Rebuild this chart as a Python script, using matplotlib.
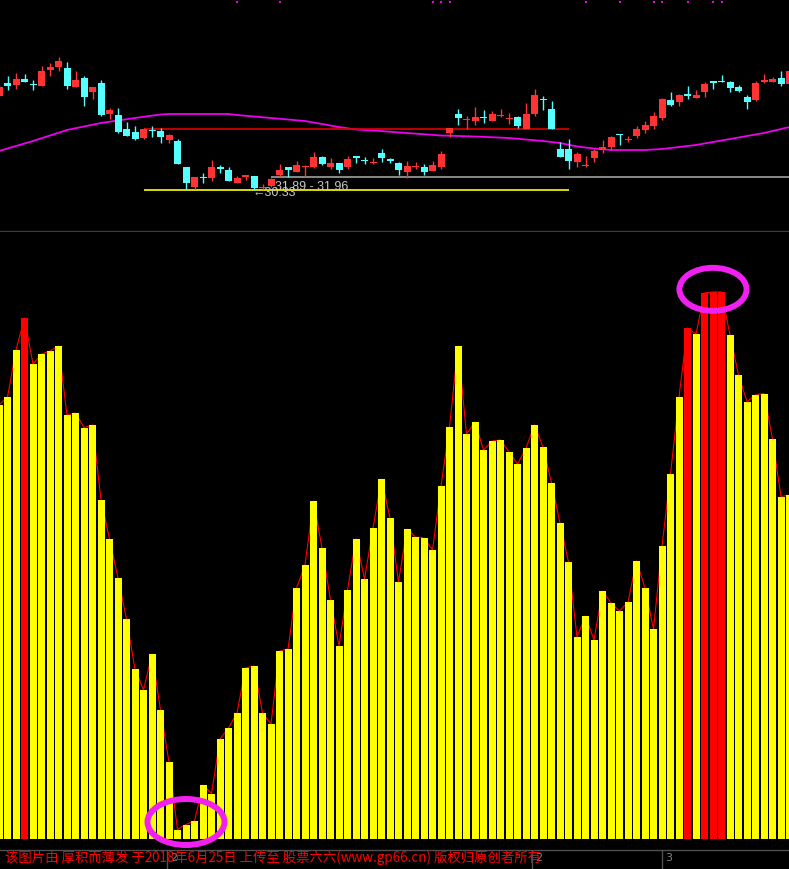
import matplotlib
matplotlib.use('Agg')
import matplotlib.pyplot as plt
from matplotlib.patches import Ellipse
import numpy as np

# ---- price panel (daily candles) ----
opens = [39.73, 41.06, 40.86, 41.43, 40.93, 40.76, 42.36, 42.63, 42.53, 40.66,
         41.53, 40.13, 41.03, 37.93, 37.83, 36.43, 36.13, 35.53, 36.33, 36.23,
         35.33, 35.23, 32.63, 30.63, 31.63, 31.53, 32.63, 32.33, 31.03, 31.63,
         31.73, 30.53, 30.73, 31.83, 32.63, 32.13, 32.63, 32.63, 33.63, 32.63,
         33.03, 32.63, 33.73, 33.33, 33.03, 34.03, 33.43, 33.03, 32.13, 32.63,
         32.63, 32.23, 32.63, 36.03, 37.93, 37.33, 37.23, 37.63, 37.23, 37.73,
         37.43, 37.63, 36.43, 37.93, 39.43, 38.43, 34.43, 34.43, 33.13, 32.73,
         33.53, 34.33, 34.63, 35.93, 35.33, 35.73, 36.33, 36.73, 37.53, 39.33,
         39.13, 39.93, 39.53, 40.13, 41.23, 41.23, 41.13, 40.63, 39.63, 39.33,
         41.13, 41.13, 41.53, 40.93]
highs = [40.83, 41.73, 42.03, 41.93, 41.33, 42.73, 43.03, 43.63, 43.13, 42.23,
         41.73, 40.63, 41.33, 38.53, 38.53, 37.13, 36.73, 36.53, 36.73, 36.53,
         35.93, 35.43, 32.63, 31.63, 32.03, 33.33, 32.83, 32.63, 31.73, 31.83,
         31.73, 30.93, 31.53, 32.93, 32.63, 33.23, 32.83, 34.13, 33.73, 33.53,
         33.03, 33.73, 33.73, 33.63, 33.53, 34.43, 33.53, 33.13, 33.23, 33.13,
         32.93, 33.23, 34.23, 36.53, 38.43, 37.73, 38.63, 38.33, 38.23, 38.43,
         38.03, 37.73, 39.03, 40.43, 39.73, 39.23, 35.13, 35.43, 34.13, 33.73,
         34.43, 35.33, 35.73, 35.93, 35.73, 36.73, 37.23, 38.13, 39.53, 40.13,
         39.93, 40.73, 40.33, 41.13, 41.23, 41.83, 41.23, 40.83, 39.83, 41.23,
         41.93, 41.63, 42.23, 42.43]
lows = [39.63, 40.33, 40.43, 41.16, 40.33, 40.76, 41.73, 42.23, 40.43, 40.66,
        38.73, 39.43, 37.73, 37.43, 36.03, 35.73, 35.33, 35.43, 35.63, 35.03,
        35.03, 32.93, 30.38, 30.40, 31.03, 31.23, 32.03, 31.23, 31.03, 31.33,
        30.33, 30.43, 30.63, 31.73, 31.63, 32.13, 31.73, 32.53, 32.83, 32.43,
        32.03, 32.43, 33.03, 32.93, 32.93, 33.13, 33.03, 31.83, 31.53, 32.43,
        31.83, 32.23, 32.43, 35.63, 36.83, 36.43, 36.83, 37.03, 37.23, 37.63,
        36.93, 36.53, 36.43, 37.73, 38.33, 36.43, 33.63, 32.43, 32.63, 32.63,
        33.13, 34.03, 34.33, 34.83, 35.13, 35.53, 36.03, 36.43, 37.33, 38.73,
        38.73, 39.43, 39.53, 39.63, 40.43, 41.13, 40.13, 40.13, 38.43, 39.23,
        41.03, 41.13, 40.73, 40.93]
closes = [40.63, 40.76, 41.43, 41.16, 40.86, 42.23, 42.63, 43.23, 40.76, 41.33,
          39.63, 40.63, 37.83, 38.33, 36.13, 35.73, 35.43, 36.43, 36.23, 35.63,
          35.83, 32.93, 31.03, 31.63, 31.53, 32.63, 32.43, 31.23, 31.53, 31.83,
          30.53, 30.63, 31.43, 32.33, 32.33, 32.83, 32.73, 33.63, 32.93, 33.03,
          32.33, 33.43, 33.53, 33.23, 33.13, 33.53, 33.23, 32.33, 32.73, 32.73,
          32.13, 32.83, 33.93, 36.53, 37.53, 37.43, 37.63, 37.53, 37.93, 37.83,
          37.53, 36.73, 37.93, 39.83, 39.33, 36.43, 33.63, 33.23, 33.93, 32.83,
          34.23, 34.63, 35.63, 35.83, 35.43, 36.43, 36.83, 37.73, 39.43, 38.83,
          39.83, 39.73, 39.83, 40.93, 41.03, 41.13, 40.53, 40.23, 39.13, 41.03,
          41.33, 41.43, 40.93, 42.23]

# moving average
ma_idx = [0, 4, 8, 12, 16, 19, 20, 24, 27, 28, 32, 36, 40, 42, 44, 48, 52, 56,
          60, 64, 66, 68, 70, 72, 76, 78, 80, 82, 84, 86, 88, 90, 92, 93]
ma_val = [34.23, 35.23, 36.33, 37.03, 37.53, 37.88, 37.93, 37.93, 37.93, 37.83,
          37.53, 37.23, 36.63, 36.38, 36.28, 36.03, 35.78, 35.68, 35.53, 35.23,
          35.03, 34.68, 34.48, 34.33, 34.33, 34.43, 34.63, 34.83, 35.13, 35.43,
          35.73, 36.03, 36.43, 36.63]

box_start, box_end = 17, 67
box_top = 36.40
box_low = 30.33
ref_start = 32
ref_level = 31.60
signal_dots = [28, 33, 51, 52, 53, 69, 73, 77, 78, 81, 84, 85]

# ---- indicator panel ----
ind = [86.7, 88.3, 97.7, 104.1, 94.9, 96.9, 97.5, 98.5, 84.7, 85.1,
       82.2, 82.7, 67.7, 59.9, 52.1, 43.9, 33.9, 29.7, 36.9, 25.7,
       15.3, 1.8, 2.8, 3.5, 10.7, 9.0, 19.9, 22.1, 25.1, 34.1,
       34.5, 25.1, 22.9, 37.5, 37.9, 50.1, 54.7, 67.5, 58.1, 47.7,
       38.5, 49.7, 59.9, 51.9, 62.1, 71.9, 64.1, 51.3, 61.9, 60.3,
       60.1, 57.7, 70.5, 82.3, 98.5, 80.9, 83.3, 77.7, 79.5, 79.7,
       77.3, 74.9, 78.1, 82.7, 78.3, 71.1, 63.1, 55.3, 40.3, 44.5,
       39.7, 49.5, 47.1, 45.5, 47.3, 55.5, 50.1, 41.9, 58.5, 72.9,
       88.3, 102.1, 100.9, 109.1, 109.3, 109.3, 100.7, 92.7, 87.4, 88.7,
       89.0, 79.9, 68.4, 68.7]
hot_bars = [3, 81, 83, 84, 85]
circled = [(21, 23), (83, 85)]

footer = "该图片由 厚积而薄发 于2018年6月25日 上传至 股票六六(www.gp66.cn) 版权归原创者所有"
axis_marks = [(167, "2"), (532, "2"), (662, "3")]

W, H = 789, 869
fig = plt.figure(figsize=(W / 100, H / 100), dpi=100, facecolor='black')


def px_axes(top, bottom):
    ax = fig.add_axes([0, 1 - bottom / H, 1, (bottom - top) / H])
    ax.set_facecolor('black')
    for s in ax.spines.values():
        s.set_visible(False)
    ax.set_xticks([])
    ax.set_yticks([])
    return ax


n = len(closes)
x = np.arange(n)
xlim = (1 / 8.5, (W + 1) / 8.5)

# top panel
ax1 = px_axes(0, 231)
ax1.set_xlim(*xlim)
ax1.set_ylim(49.33 - 23.1, 49.33)
ax1.spines['bottom'].set_visible(True)
ax1.spines['bottom'].set_color('#3a3a3a')
ax1.spines['bottom'].set_linewidth(1)

o = np.array(opens); c = np.array(closes)
up = c >= o
cols = np.where(up, '#ff3333', '#55ffff')
ax1.vlines(x, lows, highs, colors=cols, lw=1.0, zorder=3)
ax1.bar(x, np.maximum(np.abs(c - o), 0.1), bottom=np.minimum(o, c),
        width=7 / 8.5, color=cols, linewidth=0, zorder=4)
ax1.plot(ma_idx, ma_val, color='#ee00ee', lw=1.3, zorder=2)
ax1.hlines(box_top, box_start, box_end, colors='#dd0000', lw=1.2, zorder=2)
ax1.hlines(box_low, box_start, box_end, colors='#ffff00', lw=1.2, zorder=2)
ax1.hlines(ref_level, ref_start, n, colors='#a0a0a0', lw=1.2, zorder=1)
ax1.scatter(signal_dots, [49.13] * len(signal_dots), marker='s', s=3,
            color='#ee00ee', linewidths=0, zorder=5)
lbl_font = ['Liberation Sans', 'DejaVu Sans']
ax1.text(ref_start + 0.45, 30.58, "31.89 - 31.96", color='#c8c8c8',
         fontsize=9, va='center', ha='left', family=lbl_font, zorder=6)
ax1.text(30 - 0.2, 29.98, "\u219030.33", color='#c8c8c8', fontsize=9,
         va='center', ha='left', family=lbl_font, zorder=6)

# indicator panel
ax2 = px_axes(232, 838.5)
ax2.set_xlim(*xlim)
ax2.set_ylim(0, 606.5 / 5)
bar_cols = ['#ff0000' if i in hot_bars else '#ffff00' for i in range(n)]
ax2.plot(x, ind, color='#ff0000', lw=0.8, zorder=1)
ax2.bar(x, ind, width=7 / 8.5, color=bar_cols, linewidth=0, zorder=2)
ind_a = np.array(ind)
for (a, b), (w, h) in zip(circled, [(9.06, 9.2), (7.9, 8.6)]):
    xc = (a + b) / 2
    yc = ind_a[a:b + 1].mean() + 0.6
    ax2.add_patch(Ellipse((xc, yc), w, h, fill=False, ec='#f020f0',
                          lw=4.3, clip_on=False, zorder=6))

# footer
ax3 = px_axes(838.5, 869)
ax3.set_xlim(0, W)
ax3.set_ylim(H, 838.5)
ax3.axhline(850, color='#505050', lw=1)
for xp, lab in axis_marks:
    ax3.vlines(xp, 850, H, colors='#505050', lw=1)
    ax3.text(xp + 3, 858, lab, color='#808080', fontsize=8, va='center')
ax3.text(5, 857.5, footer, color='#ff0000', fontsize=9.65, va='center',
         family=['Noto Sans CJK SC', 'DejaVu Sans'], zorder=5)
ax2.set_zorder(3)

fig.savefig('out.png', dpi=100, facecolor='black')
